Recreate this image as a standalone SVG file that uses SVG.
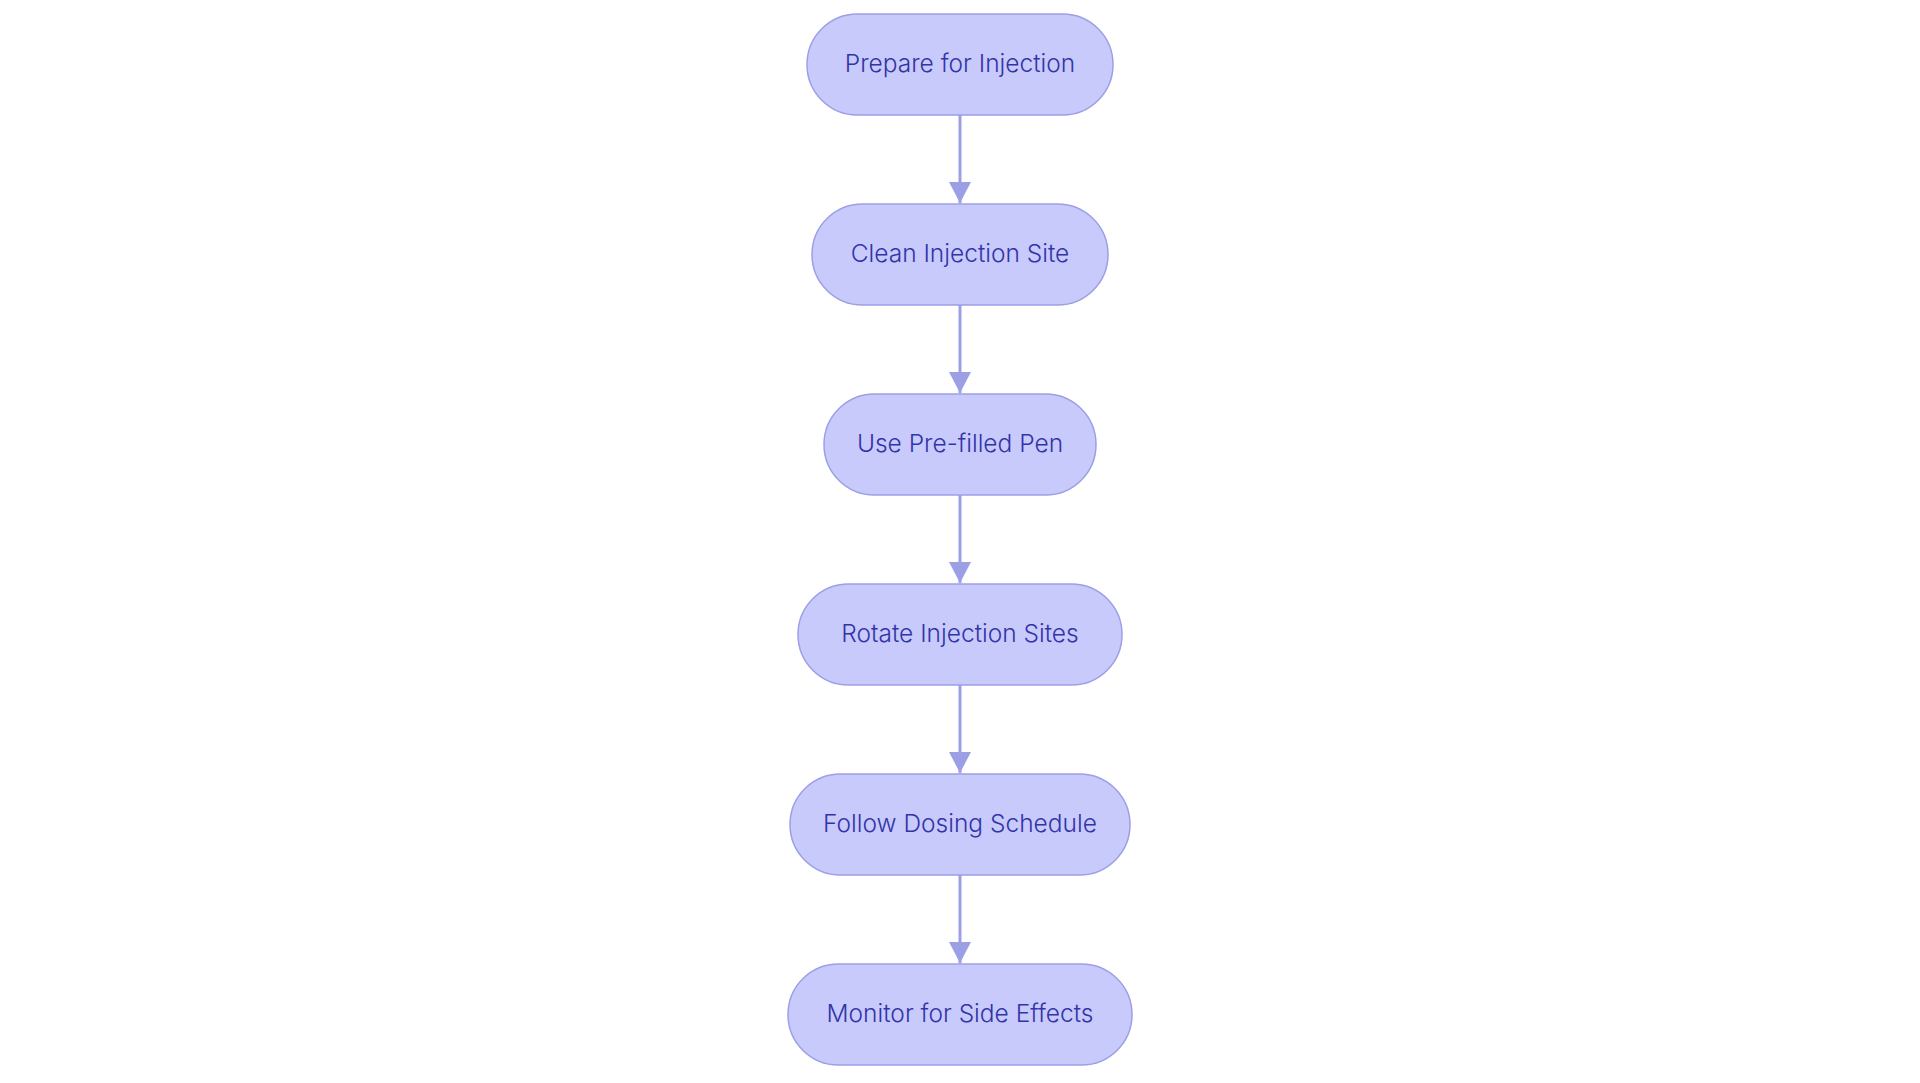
<svg xmlns="http://www.w3.org/2000/svg" width="1920" height="1083" viewBox="0 0 1920 1083">
<style>
.node rect{fill:#c8cafb;stroke:#9c9fe6;stroke-width:1.5}
.node text{font-family:"Inter","Noto Sans",sans-serif;font-size:24.5px;font-weight:300;fill:#3234a8;text-anchor:middle}
.edge{stroke:#9c9fe6;stroke-width:3;fill:none}
</style>
<defs>
<marker id="arrow" markerUnits="userSpaceOnUse" markerWidth="21" markerHeight="22" viewBox="0 0 21 22" refX="21" refY="11" orient="auto">
<path d="M0,0 L21,11 L0,22 Z" fill="#9c9fe6"/>
</marker>
</defs>
<rect width="1920" height="1083" fill="#ffffff"/>
<g id="connectors">
<line class="edge" x1="960" y1="115" x2="960" y2="203" marker-end="url(#arrow)"/>
<line class="edge" x1="960" y1="305" x2="960" y2="393" marker-end="url(#arrow)"/>
<line class="edge" x1="960" y1="495" x2="960" y2="583" marker-end="url(#arrow)"/>
<line class="edge" x1="960" y1="685" x2="960" y2="773" marker-end="url(#arrow)"/>
<line class="edge" x1="960" y1="875" x2="960" y2="963" marker-end="url(#arrow)"/>
</g>
<g id="node1" class="node"><rect x="807" y="14" width="306" height="101" rx="50.5"/><text x="960" y="72">Prepare for Injection</text></g>
<g id="node2" class="node"><rect x="812" y="204" width="296" height="101" rx="50.5"/><text x="960" y="262">Clean Injection Site</text></g>
<g id="node3" class="node"><rect x="824" y="394" width="272" height="101" rx="50.5"/><text x="960" y="452">Use Pre-filled Pen</text></g>
<g id="node4" class="node"><rect x="798" y="584" width="324" height="101" rx="50.5"/><text x="960" y="642">Rotate Injection Sites</text></g>
<g id="node5" class="node"><rect x="790" y="774" width="340" height="101" rx="50.5"/><text x="960" y="832">Follow Dosing Schedule</text></g>
<g id="node6" class="node"><rect x="788" y="964" width="344" height="101" rx="50.5"/><text x="960" y="1022">Monitor for Side Effects</text></g>
</svg>
